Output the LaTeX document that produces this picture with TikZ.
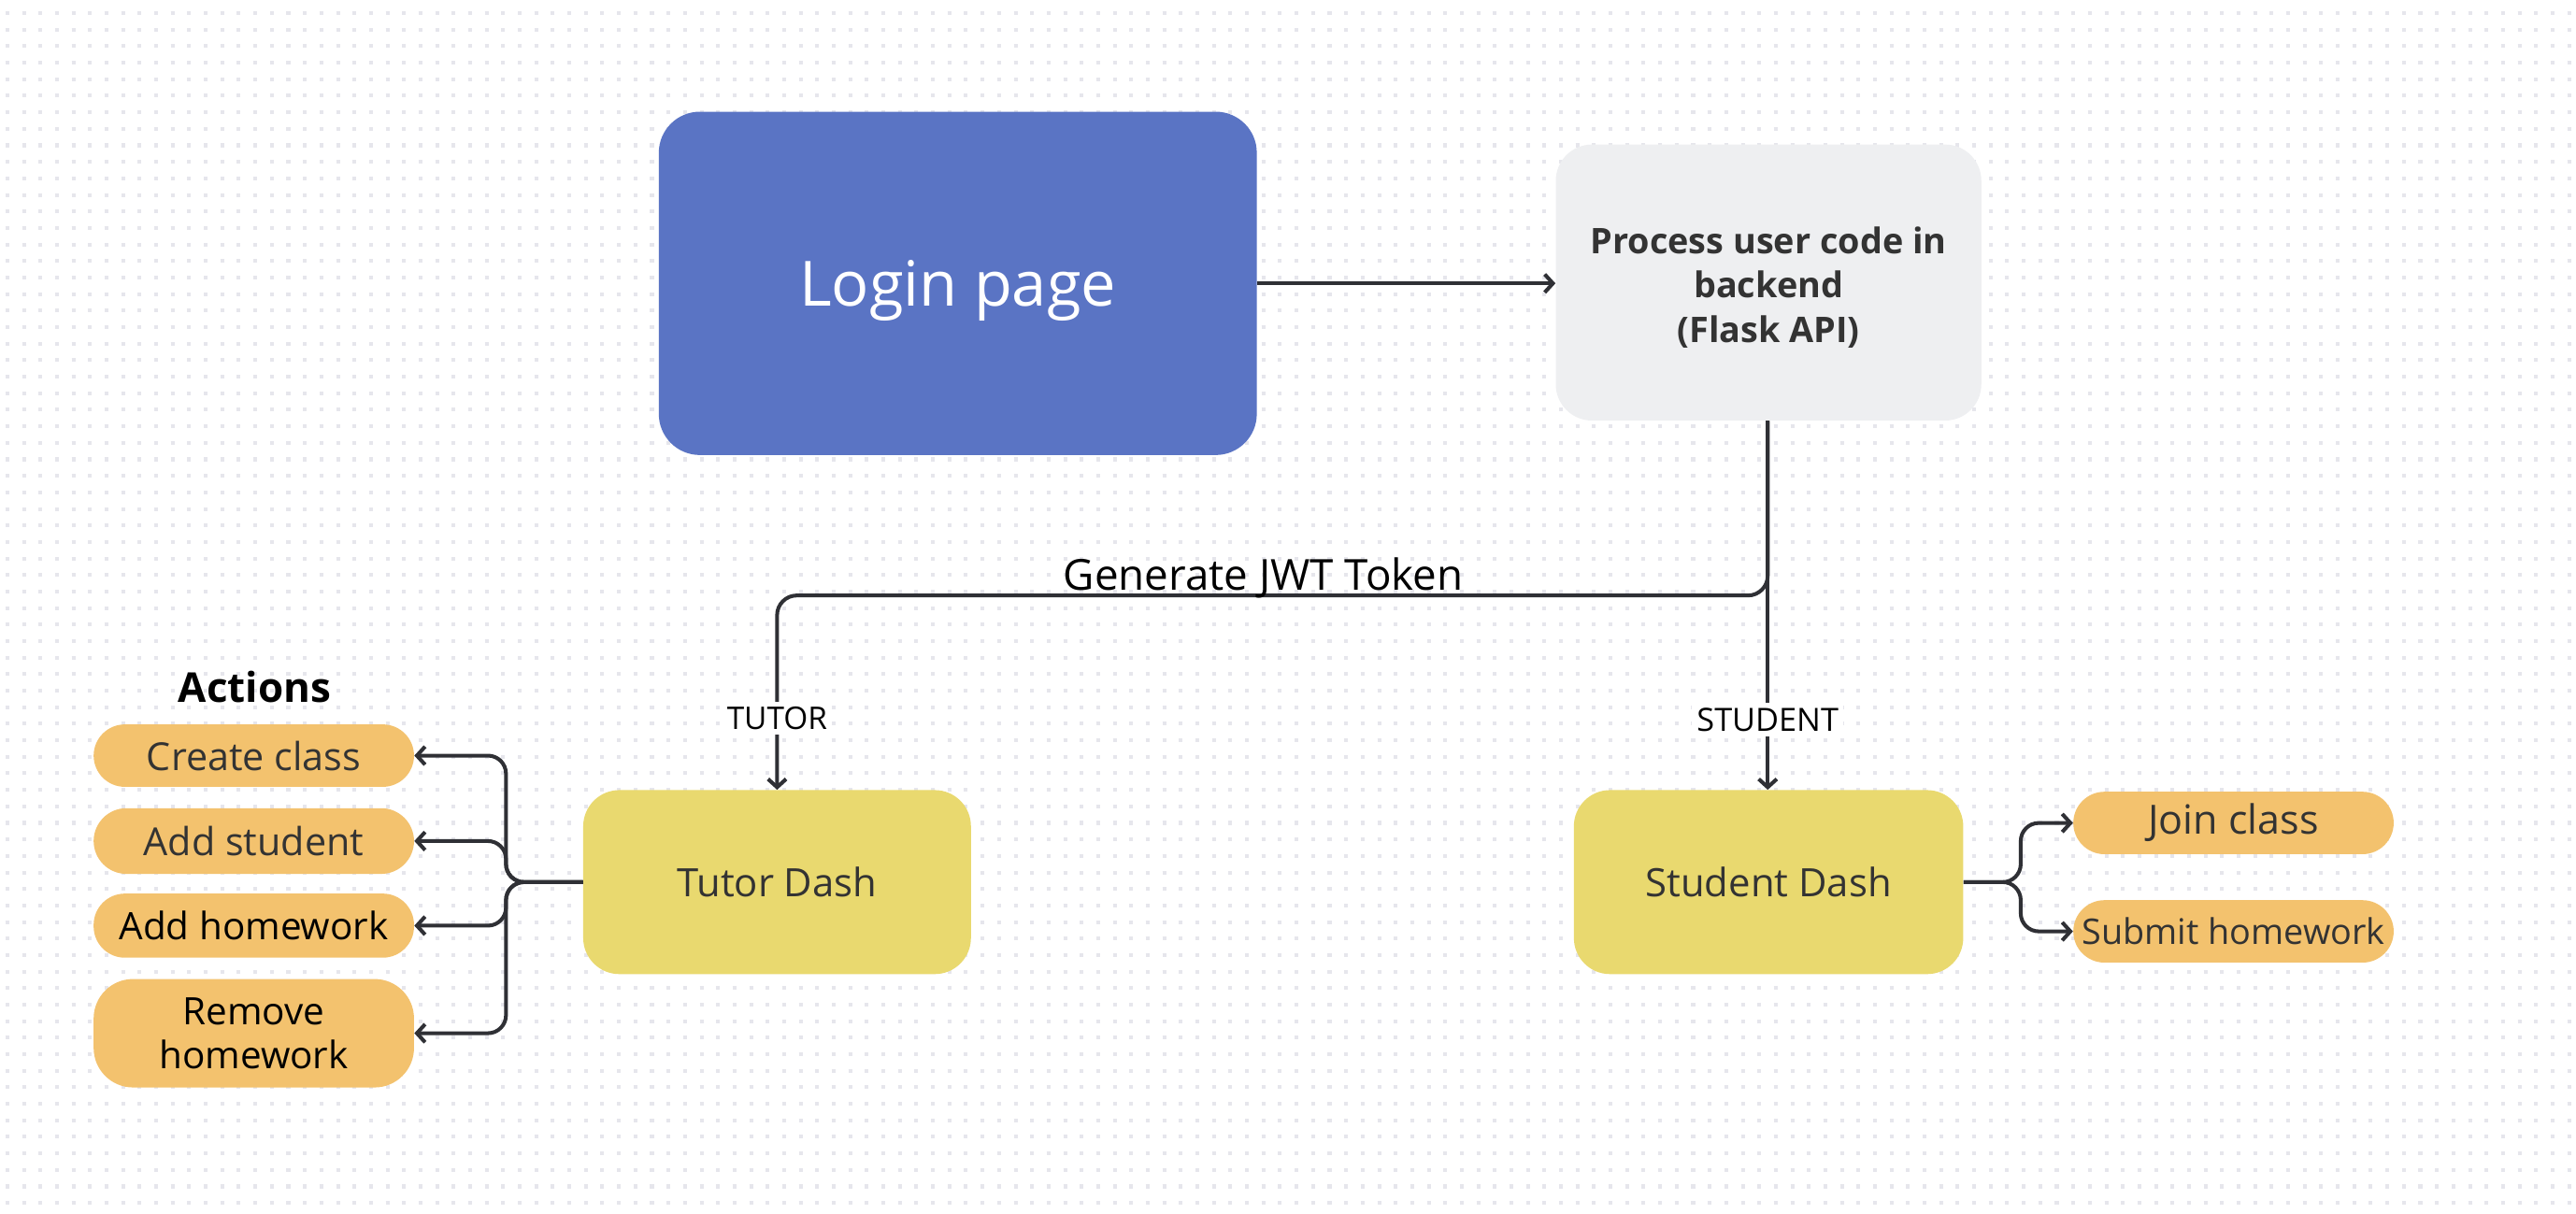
\documentclass[tikz,border=0pt]{standalone}
\usepackage{fontspec}
\setmainfont{Open Sans}
\usetikzlibrary{arrows.meta}
\definecolor{loginblue}{HTML}{5A74C4}
\definecolor{procgray}{HTML}{EEEFF1}
\definecolor{dashyellow}{HTML}{E9D96F}
\definecolor{pillorange}{HTML}{F3C26E}
\definecolor{linec}{HTML}{2F3035}
\definecolor{dotc}{HTML}{E6E6EC}
\definecolor{textc}{HTML}{333333}
\tikzset{
  boxbase/.style={inner sep=0pt, align=center, text=textc},
  loginbox/.style={boxbase, fill=loginblue, rounded corners=25pt, minimum width=364pt, minimum height=209pt, text=white, text depth=0pt, font=\fontsize{38}{44}\selectfont},
  procbox/.style={boxbase, fill=procgray, rounded corners=22pt, minimum width=259pt, minimum height=168pt, font=\fontsize{21.5}{27}\selectfont\bfseries},
  dashbox/.style={boxbase, fill=dashyellow, rounded corners=22pt, minimum width=236pt, minimum height=112pt, font=\fontsize{23.8}{28}\selectfont},
  pill/.style={boxbase, fill=pillorange, rounded corners=19pt, minimum width=195pt, minimum height=38pt, font=\fontsize{23.5}{26}\selectfont},
  conn/.style={draw=linec, line width=2.3pt, -{Straight Barb[length=5pt,width=11pt,line width=2.3pt]}},
  lbl/.style={fill=white, inner sep=3pt, text=black, font=\fontsize{19}{22}\selectfont},
}
\begin{document}
\begin{tikzpicture}[x=1pt,y=-1pt]
\useasboundingbox (0,0) rectangle (1568,738.5);
\fill[white] (0,0) rectangle (1568,738.5);
% dotted grid
\foreach \r in {0,...,72} {
  \draw[dotc, line width=2.3pt, dash pattern=on 2.3pt off 7.76pt] (3.35,{8+10.06*\r}) -- (1568,{8+10.06*\r});
}
% nodes
\node[loginbox] (login) at (583,172.5) {Login page};
\node[procbox] (proc) at (1076.5,172) {};
\node[boxbase, font=\fontsize{21.5}{27}\selectfont\bfseries] (proctext) at (1076.5,175) {Process user code in\\backend\\(Flask API)};
\node[dashbox] (tutor) at (473,537) {Tutor Dash};
\node[dashbox, minimum width=237pt] (student) at (1076.5,537) {Student Dash};
\node[font=\fontsize{25}{28}\selectfont\bfseries, text=black] (actions) at (155,418) {Actions};
\node[pill] (cc) at (154.5,460) {Create class};
\node[pill, minimum height=40pt, rounded corners=20pt] (as) at (154.5,512) {Add student};
\node[pill, minimum height=39pt, text=black, font=\fontsize{23}{26}\selectfont] (ah) at (154.5,563.5) {Add homework};
\node[pill, minimum height=66pt, rounded corners=24pt, text=black, font=\fontsize{23}{26.5}\selectfont] (rh) at (154.5,629) {Remove\\homework};
\node[pill, font=\fontsize{24.5}{26}\selectfont] (join) at (1359.5,501) {Join class};
\node[pill, font=\fontsize{21.5}{26}\selectfont] (submit) at (1359.5,567) {Submit homework};
% connectors
\draw[conn] (login.east) -- (proc.west |- login.east);
\coordinate (jn) at (1076,362.5);
\coordinate (tc) at (473,362.5);
\draw[conn] (proc.south -| jn) -- (student.north -| jn);
\draw[conn, rounded corners=12pt] (proc.south -| jn) -- (jn) -- (tc) -- (tutor.north);
\node[lbl] (tutorlbl) at (473,437) {TUTOR};
\node[lbl, font=\fontsize{19.5}{22}\selectfont] (studentlbl) at (1076,438) {STUDENT};
\node[anchor=base, inner sep=0pt, text=black, font=\fontsize{26}{30}\selectfont] (jwt) at (769,359.5) {Generate JWT Token};
% tutor actions bracket
\coordinate (tb) at (308,537);
\foreach \t in {cc,as,ah,rh} {
  \draw[conn, rounded corners=11pt] (tutor.west) -- (tb) -- (tb |- \t.east) -- (\t.east);
}
% student actions
\coordinate (sb) at (1230,537);
\foreach \t in {join,submit} {
  \draw[conn, rounded corners=11pt] (student.east) -- (sb) -- (sb |- \t.west) -- (\t.west);
}
\end{tikzpicture}
\end{document}
